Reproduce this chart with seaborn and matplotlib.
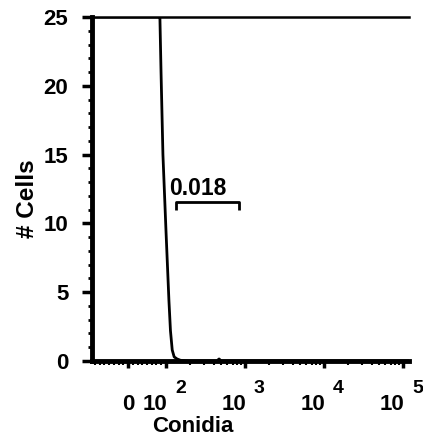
#!/usr/bin/env python3
"""Histogramme de cytométrie : # Cells vs Conidia (échelle biexponentielle)."""

import matplotlib.pyplot as plt
import matplotlib.ticker as mticker
import seaborn as sns
import numpy as np

# Données
conidia = [-95, 0, 50, 82, 84, 87, 92, 100, 109, 114, 120, 127, 138, 153,
           200, 350, 440, 470, 500, 600, 1000, 10000, 120000]
cells = [25, 25, 25, 25, 25, 21, 15, 9.5, 4.4, 2.2, 0.8, 0.3, 0.15, 0.05,
         0, 0, 0, 0.15, 0, 0, 0, 0, 0]

decades = [2, 3, 4, 5]
y_ticks = [0, 5, 10, 15, 20, 25]

gate_x = [134, 840]
gate_y = 11.55
gate_label = "0.018"

sns.set_style("ticks")
plt.rcParams['font.family'] = ['Liberation Sans', 'DejaVu Sans']
plt.rcParams['font.weight'] = 'bold'
for key in ['text.color', 'axes.labelcolor', 'xtick.color', 'ytick.color',
            'axes.edgecolor']:
    plt.rcParams[key] = 'black'

fig = plt.figure(figsize=(4.23, 4.37), dpi=100)
ax = fig.add_axes([92 / 423, 1 - 361 / 437, 317 / 423, 344 / 437])

ax.set_xscale('symlog', linthresh=100, linscale=0.432)
ax.set_xlim(-95, 1.19e5)
ax.set_ylim(0, 25)

sns.lineplot(x=conidia, y=cells, ax=ax, color='black', linewidth=2,
             estimator=None, sort=False)

# Porte (gate)
gx0, gx1 = gate_x
ax.plot([gx0, gx0, gx1, gx1], [gate_y - 0.55, gate_y, gate_y, gate_y - 0.55],
        color='black', linewidth=2, solid_capstyle='butt')
ax.text(109, 12.05, gate_label, fontsize=16.5, fontweight='bold',
        ha='left', va='baseline')

# Axes
for side in ['left', 'bottom']:
    ax.spines[side].set_linewidth(3.5)
ax.spines['top'].set_linewidth(1.8)
ax.spines['right'].set_visible(False)

ax.set_yticks(y_ticks)
ax.yaxis.set_minor_locator(mticker.MultipleLocator(1))
ax.tick_params(axis='y', which='major', length=7, width=2.5, labelsize=16, pad=10)
ax.tick_params(axis='y', which='minor', length=3, width=2)

major_x = [0] + [10 ** d for d in decades]
ax.set_xticks(major_x)
ax.set_xticklabels([''] * len(major_x))
lin_minor = [v for v in np.arange(-87.5, 100, 12.5) if v != 0]
log_minor = [m * 10 ** d for d in [2, 3, 4] for m in range(2, 10)]
ax.set_xticks(lin_minor + log_minor, minor=True)
ax.tick_params(axis='x', which='major', length=5, width=2.5)
ax.tick_params(axis='x', which='minor', length=3, width=1.5)

for lab in ax.get_yticklabels():
    lab.set_fontweight('bold')

# Étiquettes des décades : "10" + exposant
ax.annotate('0', xy=(0, 0), xycoords=('data', 'axes fraction'),
            xytext=(0, -35), textcoords='offset points',
            ha='center', va='baseline', fontsize=16, fontweight='bold')
for d in decades:
    ax.annotate('10', xy=(10 ** d, 0), xycoords=('data', 'axes fraction'),
                xytext=(1, -35), textcoords='offset points',
                ha='right', va='baseline', fontsize=16, fontweight='bold')
    ax.annotate(str(d), xy=(10 ** d, 0), xycoords=('data', 'axes fraction'),
                xytext=(6.5, -23), textcoords='offset points',
                ha='left', va='baseline', fontsize=14, fontweight='bold')

fig.text(193 / 423, 1 - 432 / 437, 'Conidia', ha='center', va='baseline',
         fontsize=16, fontweight='bold')
fig.text(28 / 423, 1 - 199 / 437, '# Cells', ha='center', va='center',
         rotation=90, fontsize=17.5, fontweight='bold')

fig.savefig('out.png', dpi=100)
plt.close(fig)
